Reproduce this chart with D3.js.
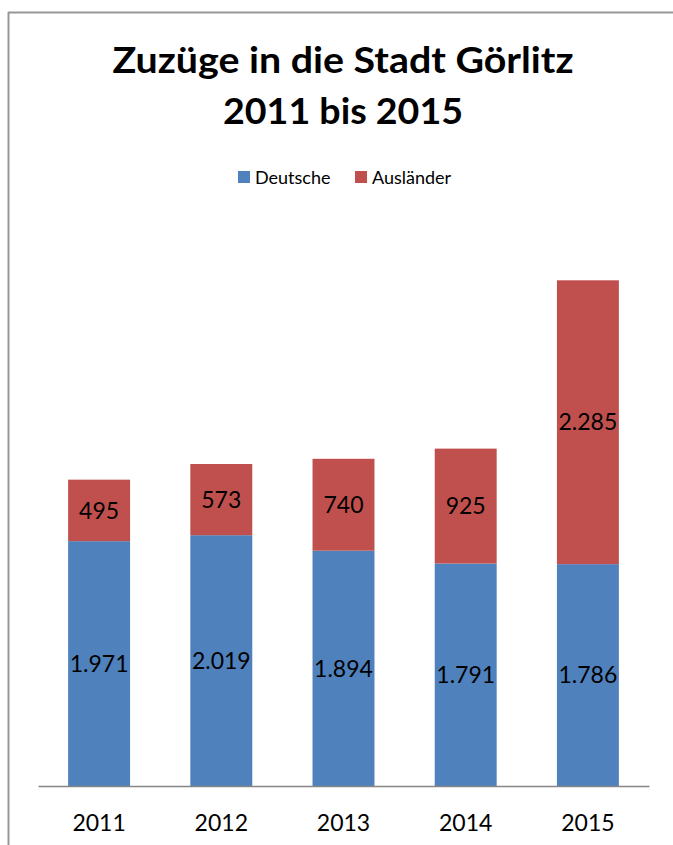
<!DOCTYPE html>
<html>
<head>
<meta charset="utf-8">
<script src="https://cdn.jsdelivr.net/npm/d3@7"></script>
<style>
  html, body { margin: 0; padding: 0; background: #fff; }
  svg { display: block; font-family: Lato, "Open Sans", sans-serif; }
</style>
</head>
<body>
<div id="chart"></div>
<script>
// data
const years = ['2011', '2012', '2013', '2014', '2015'];
const deutsche = [1971, 2019, 1894, 1791, 1786];
const auslaender = [495, 573, 740, 925, 2285];
const seriesNames = ['Deutsche', 'Ausländer'];
const colors = ['#4F81BD', '#C0504D'];
const titleLines = ['Zuzüge in die Stadt Görlitz', '2011 bis 2015'];

const width = 673, height = 845;
const plot = { left: 38, right: 649, top: 227, bottom: 786 };

const de = d3.formatLocale({ decimal: ',', thousands: '.', grouping: [3], currency: ['', ' €'] });
const fmt = de.format(',d');

const svg = d3.select('#chart').append('svg')
  .attr('width', width)
  .attr('height', height);

// chart frame (only left and top edges visible)
svg.append('line')
  .attr('x1', 8.5).attr('x2', 8.5).attr('y1', 12).attr('y2', height)
  .attr('stroke', '#979797').attr('stroke-width', 2);
svg.append('line')
  .attr('x1', 8).attr('x2', width).attr('y1', 12.5).attr('y2', 12.5)
  .attr('stroke', '#979797').attr('stroke-width', 2);

// title, widths matched to the original Calibri title
const titleWidths = [461, 240];
svg.selectAll('.title')
  .data(titleLines)
  .enter().append('text')
  .attr('class', 'title')
  .attr('x', 343)
  .attr('y', (d, i) => 73 + i * 51)
  .attr('text-anchor', 'middle')
  .attr('font-weight', 'bold')
  .attr('font-size', 36)
  .attr('fill', '#000')
  .text(d => d)
  .each(function (d, i) {
    const len = this.getComputedTextLength();
    if (Math.abs(len - titleWidths[i]) > 4) {
      d3.select(this).attr('textLength', titleWidths[i]).attr('lengthAdjust', 'spacingAndGlyphs');
    }
  });

// legend
const legendX = [238, 355];
const legend = svg.selectAll('.legend')
  .data(seriesNames)
  .enter().append('g')
  .attr('class', 'legend')
  .attr('transform', (d, i) => `translate(${legendX[i]}, 171)`);
legend.append('rect')
  .attr('width', 12).attr('height', 12)
  .attr('fill', (d, i) => colors[i]);
legend.append('text')
  .attr('x', 17).attr('y', 13)
  .attr('font-size', 18)
  .attr('fill', '#000')
  .text(d => d);

// scales
const x = d3.scaleBand()
  .domain(years)
  .range([plot.left, plot.right])
  .paddingInner(0.493)
  .paddingOuter(0.2465);
const y = d3.scaleLinear()
  .domain([0, 4500])
  .range([plot.bottom, plot.top]);

const rows = years.map((yr, i) => ({ year: yr, Deutsche: deutsche[i], 'Ausländer': auslaender[i] }));
const stacked = d3.stack().keys(seriesNames)(rows);

// bars
const layers = svg.selectAll('.layer')
  .data(stacked)
  .enter().append('g')
  .attr('class', 'layer')
  .attr('fill', (d, i) => colors[i]);

layers.selectAll('rect')
  .data(d => d)
  .enter().append('rect')
  .attr('x', d => x(d.data.year))
  .attr('y', d => y(d[1]))
  .attr('width', x.bandwidth())
  .attr('height', d => y(d[0]) - y(d[1]));

// data labels, centred in each segment
layers.selectAll('.label')
  .data(d => d.map(v => ({ v, key: d.key })))
  .enter().append('text')
  .attr('class', 'label')
  .attr('x', d => x(d.v.data.year) + x.bandwidth() / 2)
  .attr('y', d => (y(d.v[0]) + y(d.v[1])) / 2)
  .attr('dy', '0.36em')
  .attr('text-anchor', 'middle')
  .attr('font-size', 23)
  .attr('fill', '#000')
  .text(d => fmt(d.v.data[d.key]));

// x axis
const xAxis = svg.append('g')
  .attr('transform', `translate(0, ${plot.bottom})`)
  .call(d3.axisBottom(x).tickSize(0).tickSizeOuter(0).tickPadding(29));
xAxis.select('.domain').attr('stroke', '#868686').attr('stroke-width', 1.5);
xAxis.selectAll('text')
  .attr('font-family', 'Lato, "Open Sans", sans-serif')
  .attr('font-size', 23)
  .attr('fill', '#000');
</script>
</body>
</html>
